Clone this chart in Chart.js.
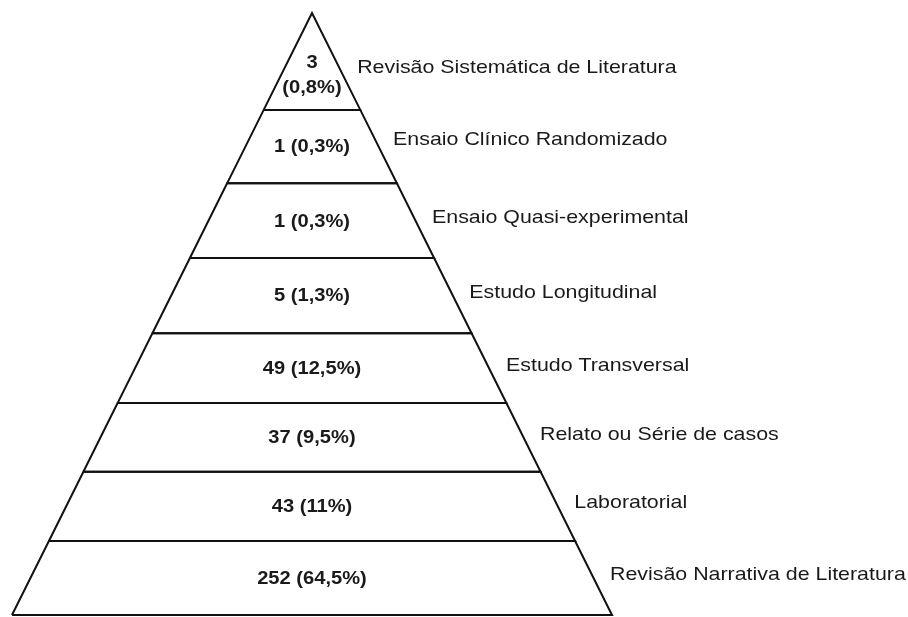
<!DOCTYPE html>
<html>
<head>
<meta charset="utf-8">
<script src="https://cdn.jsdelivr.net/npm/chart.js@4/dist/chart.umd.min.js"></script>
<style>
  html, body { margin: 0; padding: 0; background: #ffffff; }
  #wrap { width: 908px; height: 617px; }
</style>
</head>
<body>
<div id="wrap"><canvas id="c" width="908" height="617"></canvas></div>
<script>
// ---- data (bottom layer first) ----
const categories = [
  "Revisão Narrativa de Literatura",
  "Laboratorial",
  "Relato ou Série de casos",
  "Estudo Transversal",
  "Estudo Longitudinal",
  "Ensaio Quasi-experimental",
  "Ensaio Clínico Randomizado",
  "Revisão Sistemática de Literatura"
];
const counts = [252, 43, 37, 49, 5, 1, 1, 3];
const percents = ["64,5%", "11%", "9,5%", "12,5%", "1,3%", "0,3%", "0,3%", "0,8%"];
// layer boundaries as % of pyramid height (base = 0, apex = 100)
const levelBounds = [0, 12.3, 23.8, 35.2, 46.8, 59.3, 71.7, 83.9, 100];

// ---- build one closed trapezoid per layer ----
function halfWidth(level) { return (100 - level) / 100; }
const datasets = categories.map((cat, i) => {
  const l0 = levelBounds[i], l1 = levelBounds[i + 1];
  const w0 = halfWidth(l0), w1 = halfWidth(l1);
  const pts = [
    { x: -w0, y: l0 }, { x: w0, y: l0 },
    { x: w1, y: l1 }, { x: -w1, y: l1 }, { x: -w0, y: l0 }
  ];
  return {
    label: cat,
    data: pts,
    showLine: true,
    fill: false,
    borderColor: '#111111',
    borderWidth: 2,
    pointRadius: 0,
    tension: 0
  };
});

const layout = {
  catGap: 18,
  catShift: [-3, -3, -3, -2, -3, -3, -7, 6]
};

function drawScaled(ctx, text, x, y, sx, align) {
  ctx.save();
  ctx.translate(x, y);
  ctx.scale(sx, 1);
  ctx.textAlign = align;
  ctx.textBaseline = 'middle';
  ctx.fillText(text, 0, 0);
  ctx.restore();
}

const labelPlugin = {
  id: 'pyramidLabels',
  afterDatasetsDraw(chart) {
    const ctx = chart.ctx;
    const xs = chart.scales.x, ys = chart.scales.y;
    ctx.save();
    ctx.fillStyle = '#1a1a1a';
    const n = categories.length;
    for (let i = 0; i < n; i++) {
      const l0 = levelBounds[i], l1 = levelBounds[i + 1];
      const cx = xs.getPixelForValue(0);
      // value labels
      ctx.font = 'bold 17.5px "Liberation Sans", Arial, sans-serif';
      if (i === n - 1) {
        const midPx = ys.getPixelForValue(l0 + 0.35 * (l1 - l0));
        drawScaled(ctx, String(counts[i]), cx, midPx - 12.5, 1.15, 'center');
        drawScaled(ctx, '(' + percents[i] + ')', cx, midPx + 12.5, 1.15, 'center');
      } else {
        const midPx = ys.getPixelForValue((l0 + l1) / 2);
        drawScaled(ctx, counts[i] + ' (' + percents[i] + ')', cx, midPx + 1, 1.15, 'center');
      }
      // category labels to the right of the slanted edge
      const yPx = ys.getPixelForValue((l0 + l1) / 2) + layout.catShift[i];
      const lvl = ys.getValueForPixel(yPx);
      const edgePx = xs.getPixelForValue(halfWidth(lvl));
      ctx.font = '18.5px "Liberation Sans", Arial, sans-serif';
      drawScaled(ctx, categories[i], edgePx + layout.catGap, yPx, 1.155, 'left');
    }
    ctx.restore();
  }
};

new Chart(document.getElementById('c'), {
  type: 'scatter',
  data: { datasets },
  options: {
    responsive: false,
    animation: false,
    layout: { padding: 0 },
    plugins: { legend: { display: false }, tooltip: { enabled: false } },
    scales: {
      x: { type: 'linear', display: false, min: -312 / 300, max: (908 - 312) / 300 },
      y: { type: 'linear', display: false, min: -2 / 6.02, max: 615 / 6.02 }
    }
  },
  plugins: [labelPlugin]
});
</script>
</body>
</html>
